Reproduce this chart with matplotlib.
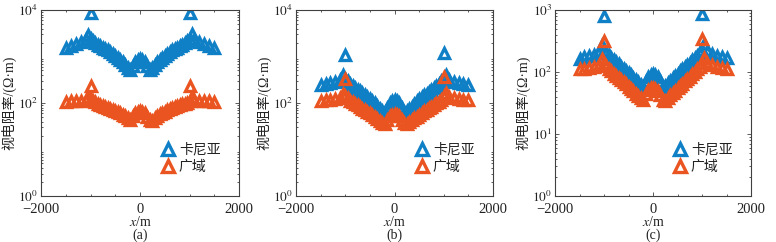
import numpy as np
import matplotlib
matplotlib.use('Agg')
import matplotlib.pyplot as plt
from matplotlib.ticker import FixedLocator, NullFormatter, LogLocator

plt.rcParams['font.family'] = ['Liberation Serif', 'Noto Sans CJK SC']
plt.rcParams['mathtext.fontset'] = 'stix'

blue = '#0f7fc6'
orange = '#ea5420'

x = [-1500, -1400, -1300, -1200, -1100, -1050, -1000, -950, -900, -850, -800, -750, -700,
     -650, -600, -550, -500, -450, -400, -350, -300, -250, -200, -150, -100, -50, 0,
     50, 100, 150, 200, 250, 300, 350, 400, 450, 500, 550, 600, 650, 700, 750, 800,
     850, 900, 950, 1000, 1050, 1100, 1200, 1300, 1400, 1500]
x_out = [-1000, 1000]

# (a)
a_kn = [1550, 1700, 1850, 2050, 2400, 2900, 2400, 2150, 1950, 1800, 1650, 1550, 1450,
        1350, 1250, 1150, 1050, 950, 850, 750, 650, 580, 500, 620, 760, 860, 900,
        860, 760, 620, 500, 580, 660, 750, 850, 950, 1050, 1150, 1250, 1350, 1450, 1550, 1650,
        1800, 1950, 2150, 2400, 3000, 2400, 2050, 1850, 1700, 1550]
a_gy = [105, 108, 110, 112, 118, 135, 120, 110, 103, 97, 92, 88, 84,
        80, 76, 72, 68, 64, 60, 56, 52, 48, 44, 52, 60, 65, 66,
        64, 60, 50, 44, 42, 48, 53, 57, 61, 65, 69, 73, 77, 81, 85, 89,
        93, 97, 102, 110, 135, 115, 112, 110, 108, 105]
a_kn_out = [8500, 8700]
a_gy_out = [230, 235]

# (b)
b_kn = [245, 255, 265, 280, 310, 400, 330, 290, 260, 235, 215, 195, 178,
        162, 148, 135, 122, 110, 98, 86, 76, 68, 64, 80, 100, 112, 118,
        112, 100, 80, 64, 66, 74, 84, 96, 108, 120, 133, 146, 160, 176, 193, 212,
        232, 258, 290, 335, 410, 310, 280, 265, 255, 245]
b_gy = [112, 115, 118, 122, 130, 160, 140, 125, 113, 104, 96, 89, 82,
        76, 70, 65, 60, 55, 50, 46, 42, 38, 36, 44, 52, 56, 57,
        55, 52, 44, 37, 35, 39, 43, 47, 51, 56, 61, 66, 71, 77, 83, 90,
        98, 107, 118, 140, 165, 135, 127, 122, 118, 115]
b_kn_out = [1070, 1200]
b_gy_out = [330, 355]

# (c)
c_kn = [165, 172, 180, 190, 210, 270, 230, 205, 185, 170, 156, 144, 133,
        122, 113, 104, 96, 88, 81, 74, 68, 62, 58, 72, 84, 90, 92,
        90, 84, 72, 58, 60, 66, 72, 79, 86, 94, 102, 111, 120, 131, 142, 155,
        168, 183, 203, 230, 280, 215, 195, 182, 173, 166]
c_gy = [110, 113, 117, 122, 132, 165, 140, 124, 112, 102, 94, 87, 80,
        74, 68, 63, 58, 53, 49, 45, 41, 38, 35, 44, 52, 55, 56,
        54, 50, 42, 36, 34, 38, 42, 46, 50, 55, 60, 65, 71, 77, 84, 92,
        100, 110, 122, 140, 170, 138, 128, 121, 116, 112]
c_kn_out = [800, 870]
c_gy_out = [320, 340]

panels = [
    ('(a)', a_kn, a_gy, a_kn_out, a_gy_out, [1e0, 1e2, 1e4], 1e4),
    ('(b)', b_kn, b_gy, b_kn_out, b_gy_out, [1e0, 1e2, 1e4], 1e4),
    ('(c)', c_kn, c_gy, c_kn_out, c_gy_out, [1e0, 1e1, 1e2, 1e3], 1e3),
]
lefts = [41, 296, 555]
widths = [198, 197, 196]

W, H = 776, 242
fig = plt.figure(figsize=(W / 100, H / 100), dpi=100)
spine_c = '#404040'
txt_c = '#222222'
ms = 7.5
mew = 2.4

for i, (cap, kn, gy, kn_o, gy_o, yt, ytop) in enumerate(panels):
    ax = fig.add_axes([lefts[i] / W, (H - 196) / H, widths[i] / W, 186 / H])
    ax.set_yscale('log')
    l1, = ax.plot(x, kn, ls='none', marker='^', ms=ms, mfc='none', mec=blue, mew=mew, label='卡尼亚')
    ax.plot(x_out, kn_o, ls='none', marker='^', ms=ms, mfc='none', mec=blue, mew=mew)
    l2, = ax.plot(x, gy, ls='none', marker='^', ms=ms, mfc='none', mec=orange, mew=mew, label='广域')
    ax.plot(x_out, gy_o, ls='none', marker='^', ms=ms, mfc='none', mec=orange, mew=mew)
    ax.set_xlim(-2000, 2000)
    ax.set_ylim(1, ytop)
    ax.set_xticks([-2000, 0, 2000])
    ax.set_xticklabels(['−2000', '0', '2000'])
    ax.xaxis.set_minor_locator(FixedLocator(np.arange(-2000, 2001, 500)))
    ax.set_yticks(yt)
    ax.set_yticklabels(['$10^{%d}$' % int(np.log10(v)) for v in yt])
    ax.yaxis.set_minor_locator(LogLocator(base=10, subs=np.arange(2, 10), numticks=20))
    ax.yaxis.set_minor_formatter(NullFormatter())
    ax.tick_params(which='both', direction='in', top=True, right=True, colors=spine_c,
                   labelcolor=txt_c, width=0.6)
    ax.tick_params(axis='x', labelsize=10.5, pad=5)
    ax.tick_params(axis='y', labelsize=9.5, pad=2)
    ax.tick_params(which='major', length=3)
    ax.tick_params(which='minor', length=1.5)
    for s in ax.spines.values():
        s.set_color(spine_c)
        s.set_linewidth(0.8)
    ax.set_xlabel('$x$/m', fontsize=10, labelpad=-1, color=txt_c)
    ax.set_ylabel('视电阻率/(Ω·m)', fontsize=10, labelpad=1, color=txt_c)
    ax.text(0.5, -0.175, cap, transform=ax.transAxes, ha='center', va='top',
            fontsize=10, color=txt_c)
    leg = ax.legend(handles=[l1, l2], loc='lower right', bbox_to_anchor=(0.97, 0.05),
                    frameon=False, fontsize=10, handlelength=0.8, handletextpad=0.4,
                    labelspacing=0.3, markerscale=1.2)
    for t in leg.get_texts():
        t.set_color(txt_c)

fig.savefig('out.png', dpi=100)
